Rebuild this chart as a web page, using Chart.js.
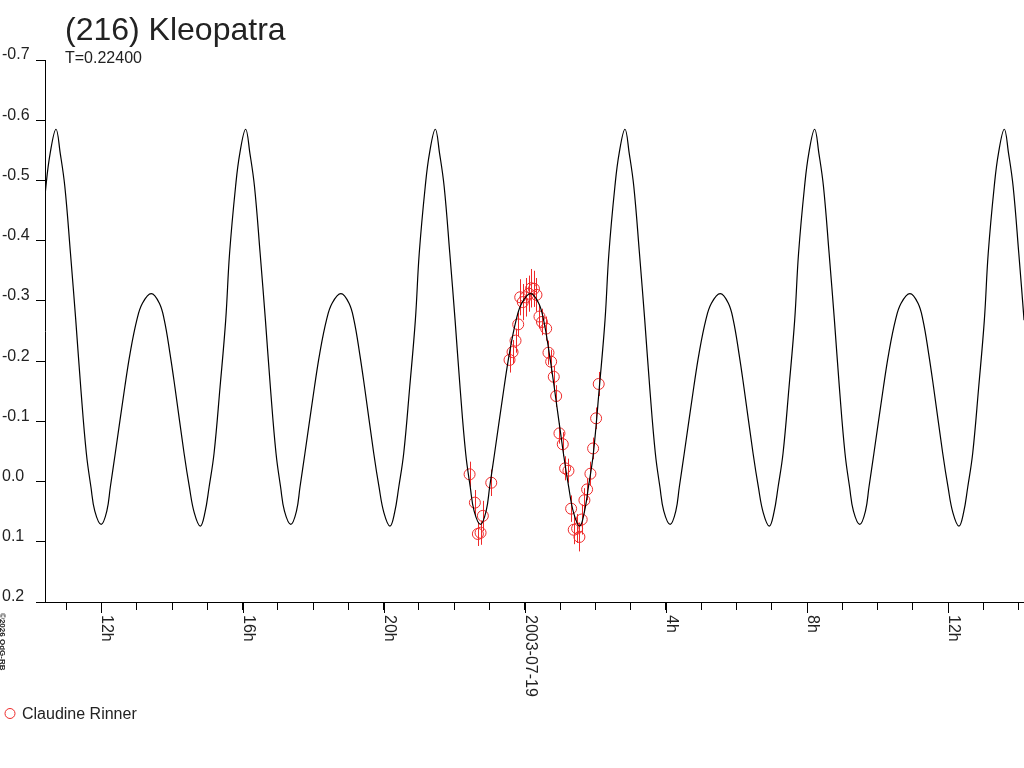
<!DOCTYPE html>
<html>
<head>
<meta charset="utf-8">
<title>(216) Kleopatra</title>
<script src="https://cdn.jsdelivr.net/npm/chart.js@4.4.1/dist/chart.umd.min.js"></script>
<style>
  html, body { margin: 0; padding: 0; background: #fff; }
  canvas { display: block; }
</style>
</head>
<body>
<canvas id="lc" width="1024" height="768"></canvas>
<script>
// time in hours from 2003-07-19 00:00 UT, magnitudes (axis reversed)
const obsHours = [-1.565, -1.415, -1.330, -1.254, -1.189, -0.951, -0.433, -0.348, -0.263, -0.187,
  -0.130, -0.057, 0.020, 0.113, 0.181, 0.260, 0.331, 0.416, 0.487, 0.606,
  0.671, 0.747, 0.821, 0.889, 0.982, 1.076, 1.143, 1.237, 1.313, 1.387,
  1.483, 1.548, 1.613, 1.690, 1.766, 1.860, 1.936, 2.021, 2.095];
const obsMag = [-0.012, 0.035, 0.087, 0.085, 0.057, 0.002, -0.202, -0.215, -0.234, -0.261,
  -0.306, -0.298, -0.306, -0.312, -0.321, -0.320, -0.310, -0.274, -0.265, -0.254,
  -0.214, -0.199, -0.174, -0.142, -0.080, -0.062, -0.022, -0.018, 0.045, 0.080,
  0.078, 0.092, 0.063, 0.031, 0.013, -0.013, -0.055, -0.105, -0.162];
const obsErr = [0.021, 0.021, 0.020, 0.020, 0.025, 0.022, 0.021, 0.020, 0.020, 0.020,
  0.030, 0.030, 0.032, 0.030, 0.032, 0.030, 0.028, 0.020, 0.022, 0.020,
  0.020, 0.020, 0.018, 0.018, 0.017, 0.020, 0.020, 0.020, 0.022, 0.024,
  0.024, 0.024, 0.025, 0.020, 0.018, 0.020, 0.018, 0.018, 0.020];

// fitted light curve (T=0.22400 d)
const fitHours = [
  -13.854, -13.744, -13.574, -13.454,
  -13.288, -13.168, -13.038, -12.878, -12.728, -12.588, -12.428, -12.298, -12.188, -12.008, -11.848, -11.748, -11.608, -11.338, -11.188, -10.998, -10.838,
  -10.588, -10.358, -10.218, -10.058, -9.918, -9.658, -9.508, -9.368, -9.198, -9.068, -8.948, -8.808, -8.638, -8.478, -8.368, -8.198, -8.078,
  -7.912, -7.792, -7.662, -7.502, -7.352, -7.212, -7.052, -6.922, -6.812, -6.632, -6.472, -6.372, -6.232, -5.962, -5.812, -5.622, -5.462,
  -5.212, -4.982, -4.842, -4.682, -4.542, -4.282, -4.132, -3.992, -3.822, -3.692, -3.572, -3.432, -3.262, -3.102, -2.992, -2.822, -2.702,
  -2.536, -2.416, -2.286, -2.126, -1.976, -1.836, -1.676, -1.546, -1.436, -1.256, -1.096, -0.996, -0.856, -0.586, -0.436, -0.246, -0.086,
  0.164, 0.394, 0.534, 0.694, 0.834, 1.094, 1.244, 1.384, 1.554, 1.684, 1.804, 1.944, 2.114, 2.274, 2.384, 2.554, 2.674,
  2.840, 2.960, 3.090, 3.250, 3.400, 3.540, 3.700, 3.830, 3.940, 4.120, 4.280, 4.380, 4.520, 4.790, 4.940, 5.130, 5.290,
  5.540, 5.770, 5.910, 6.070, 6.210, 6.470, 6.620, 6.760, 6.930, 7.060, 7.180, 7.320, 7.490, 7.650, 7.760, 7.930, 8.050,
  8.216, 8.336, 8.466, 8.626, 8.776, 8.916, 9.076, 9.206, 9.316, 9.496, 9.656, 9.756, 9.896, 10.166, 10.316, 10.506, 10.666,
  10.916, 11.146, 11.286, 11.446, 11.586, 11.846, 11.996, 12.136, 12.306, 12.436, 12.556, 12.696, 12.866, 13.026, 13.136, 13.306, 13.426,
  13.592, 13.712, 13.842, 14.002, 14.152, 14.292
];
const fitMag = [
  -0.268, -0.379, -0.490, -0.545,
  -0.585, -0.545, -0.490, -0.379, -0.268, -0.157, -0.047, 0.009, 0.049, 0.071, 0.049, 0.009, -0.047, -0.157, -0.213, -0.268, -0.296,
  -0.312, -0.296, -0.268, -0.213, -0.157, -0.047, 0.009, 0.052, 0.074, 0.052, 0.009, -0.047, -0.157, -0.268, -0.379, -0.490, -0.545,
  -0.585, -0.545, -0.490, -0.379, -0.268, -0.157, -0.047, 0.009, 0.049, 0.071, 0.049, 0.009, -0.047, -0.157, -0.213, -0.268, -0.296,
  -0.312, -0.296, -0.268, -0.213, -0.157, -0.047, 0.009, 0.052, 0.074, 0.052, 0.009, -0.047, -0.157, -0.268, -0.379, -0.490, -0.545,
  -0.585, -0.545, -0.490, -0.379, -0.268, -0.157, -0.047, 0.009, 0.049, 0.071, 0.049, 0.009, -0.047, -0.157, -0.213, -0.268, -0.296,
  -0.312, -0.296, -0.268, -0.213, -0.157, -0.047, 0.009, 0.052, 0.074, 0.052, 0.009, -0.047, -0.157, -0.268, -0.379, -0.490, -0.545,
  -0.585, -0.545, -0.490, -0.379, -0.268, -0.157, -0.047, 0.009, 0.049, 0.071, 0.049, 0.009, -0.047, -0.157, -0.213, -0.268, -0.296,
  -0.312, -0.296, -0.268, -0.213, -0.157, -0.047, 0.009, 0.052, 0.074, 0.052, 0.009, -0.047, -0.157, -0.268, -0.379, -0.490, -0.545,
  -0.585, -0.545, -0.490, -0.379, -0.268, -0.157, -0.047, 0.009, 0.049, 0.071, 0.049, 0.009, -0.047, -0.157, -0.213, -0.268, -0.296,
  -0.312, -0.296, -0.268, -0.213, -0.157, -0.047, 0.009, 0.052, 0.074, 0.052, 0.009, -0.047, -0.157, -0.268, -0.379, -0.490, -0.545,
  -0.585, -0.545, -0.490, -0.379, -0.268, -0.157
];

const tickHours = [-12, -8, -4, 0, 4, 8, 12];
const tickLabels = ['12h', '16h', '20h', '2003-07-19', '4h', '8h', '12h'];

const FONT = '"Liberation Sans", Arial, sans-serif';
const RED = '#ee2a2a';

const obsPoints = obsHours.map((h, i) => ({ x: h, y: obsMag[i] }));
const fitPoints = fitHours.map((h, i) => ({ x: h, y: fitMag[i] }));

// error bars, under the circles
const errorBars = {
  id: 'errorBars',
  beforeDatasetsDraw(chart) {
    const { ctx, scales: { x, y } } = chart;
    ctx.save();
    ctx.strokeStyle = RED;
    ctx.lineWidth = 1;
    obsHours.forEach((h, i) => {
      const px = Math.round(x.getPixelForValue(h)) + 0.5;
      ctx.beginPath();
      ctx.moveTo(px, y.getPixelForValue(obsMag[i] - obsErr[i]));
      ctx.lineTo(px, y.getPixelForValue(obsMag[i] + obsErr[i]));
      ctx.stroke();
    });
    ctx.restore();
  }
};

// title, rotated time labels, longer ticks, legend
const decorations = {
  id: 'decorations',
  afterDraw(chart) {
    const { ctx, chartArea, scales: { x } } = chart;
    ctx.save();
    ctx.fillStyle = '#222';
    ctx.textAlign = 'left';
    ctx.textBaseline = 'alphabetic';
    ctx.font = '32px ' + FONT;
    ctx.fillText('(216) Kleopatra', 65, 40);
    ctx.font = '16px ' + FONT;
    ctx.fillText('T=0.22400', 65, 63);

    // major ticks every 4h
    ctx.strokeStyle = '#000';
    ctx.lineWidth = 1;
    tickHours.forEach((h, i) => {
      const px = Math.round(x.getPixelForValue(h)) + 0.5;
      ctx.beginPath();
      ctx.moveTo(px, chartArea.bottom);
      ctx.lineTo(px, chartArea.bottom + 11);
      ctx.stroke();
      ctx.save();
      ctx.translate(px + 0.5, chartArea.bottom + 13);
      ctx.rotate(Math.PI / 2);
      ctx.font = '16px ' + FONT;
      ctx.fillText(tickLabels[i], 0, 0);
      ctx.restore();
    });

    // copyright
    ctx.save();
    ctx.translate(0, 613);
    ctx.rotate(Math.PI / 2);
    ctx.font = 'bold 8px ' + FONT;
    ctx.fillText('\u00a92026 OdG-RB', 0, 0);
    ctx.restore();

    // legend
    ctx.strokeStyle = RED;
    ctx.beginPath();
    ctx.arc(10, 713.5, 5, 0, Math.PI * 2);
    ctx.stroke();
    ctx.font = '16px ' + FONT;
    ctx.fillText(chart.data.datasets[1].label, 22, 719);
    ctx.restore();
  }
};

new Chart(document.getElementById('lc'), {
  type: 'scatter',
  data: {
    datasets: [{
      label: 'fit',
      data: fitPoints,
      showLine: true,
      pointRadius: 0,
      borderColor: '#000',
      borderWidth: 1.2,
      tension: 0.4
    }, {
      label: 'Claudine Rinner',
      data: obsPoints,
      pointRadius: 5.5,
      borderWidth: 1,
      borderColor: RED,
      backgroundColor: 'rgba(0,0,0,0)'
    }]
  },
  options: {
    responsive: false,
    animation: false,
    devicePixelRatio: 1,
    layout: { autoPadding: false, padding: { left: 2, right: 0, top: 60, bottom: 158 } },
    plugins: {
      legend: { display: false },
      tooltip: { enabled: false }
    },
    scales: {
      x: {
        type: 'linear',
        min: -13.6,
        max: 14.15,
        border: { display: true, color: '#000', width: 1 },
        grid: { drawOnChartArea: false, tickLength: 8, color: '#000' },
        ticks: { display: false, stepSize: 1, includeBounds: false, autoSkip: false },
        afterFit: (s) => { s.height = 8; }
      },
      y: {
        type: 'linear',
        reverse: true,
        min: -0.7,
        max: 0.2,
        border: { display: true, color: '#000', width: 1 },
        grid: { drawOnChartArea: false, tickLength: 9, color: '#000' },
        ticks: {
          stepSize: 0.1,
          crossAlign: 'far',
          padding: 7,
          labelOffset: -5,
          color: '#222',
          font: { family: FONT, size: 16 },
          callback: (v) => (Math.abs(v) < 1e-9 ? 0 : v).toFixed(1)
        },
        afterFit: (s) => { s.width = 43; }
      }
    }
  },
  plugins: [errorBars, decorations]
});
</script>
</body>
</html>
